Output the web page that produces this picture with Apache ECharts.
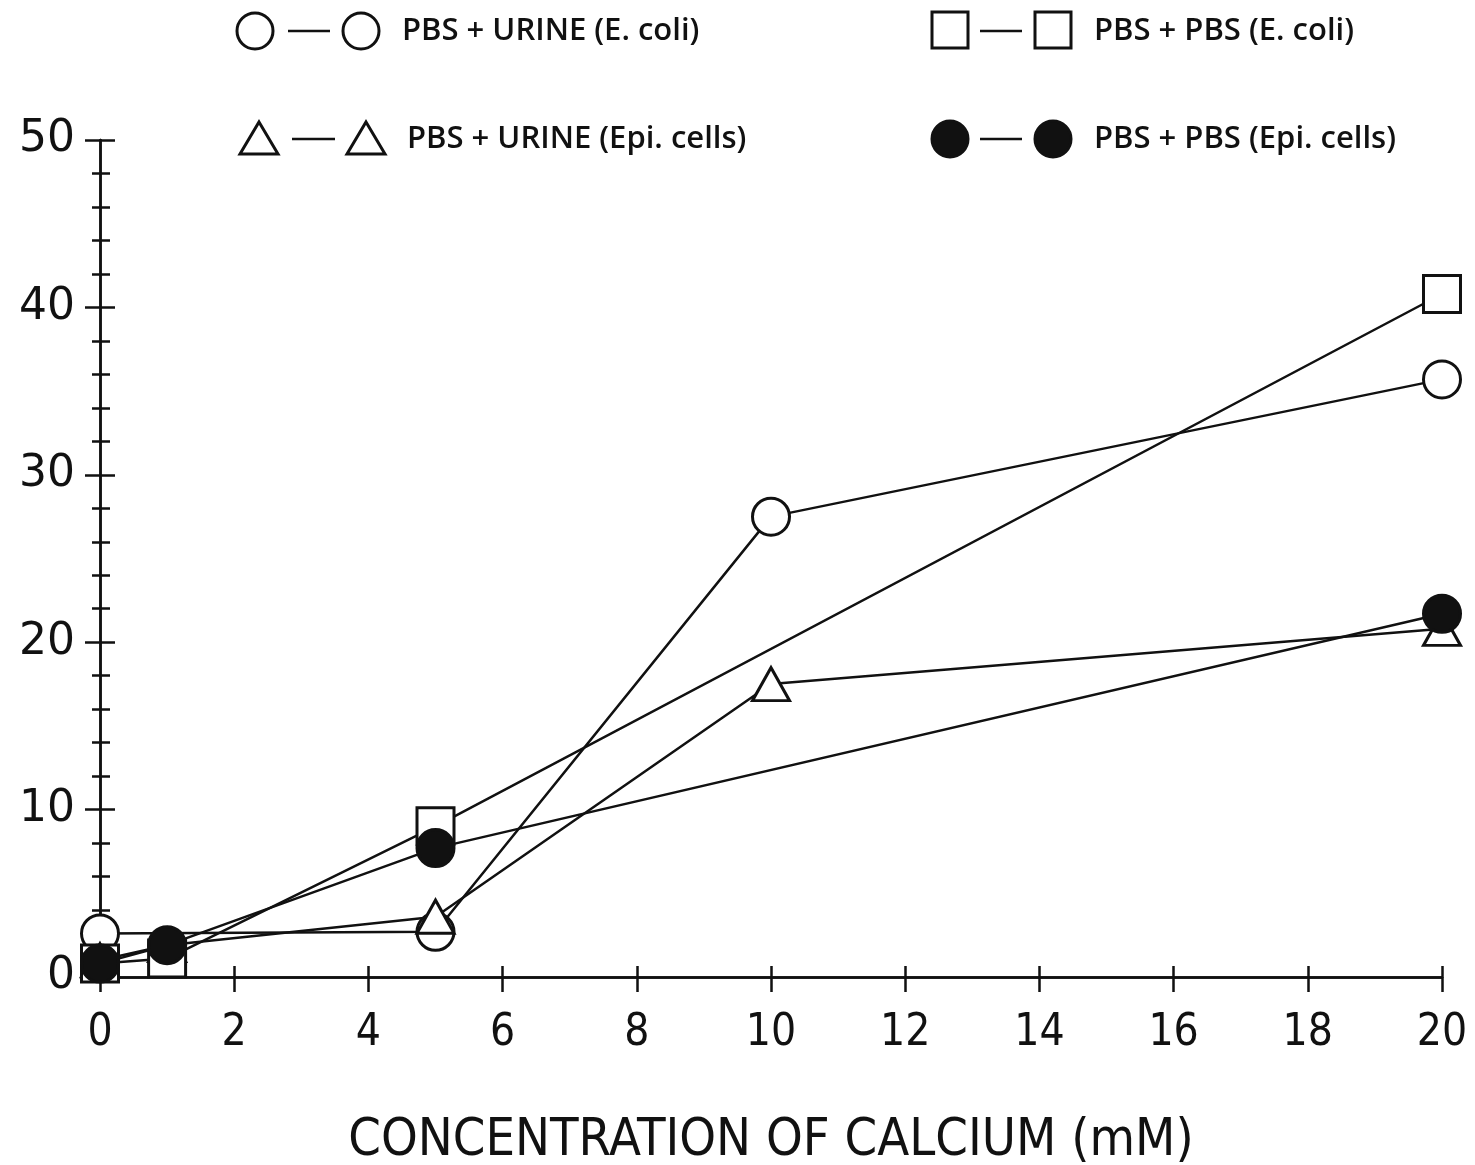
<!DOCTYPE html>
<html>
<head>
<meta charset="utf-8">
<script src="https://cdn.jsdelivr.net/npm/echarts@6/dist/echarts.min.js"></script>
<style>
  html, body { margin: 0; padding: 0; background: #fff; }
  #chart { width: 1475px; height: 1165px; }
</style>
</head>
<body>
<div id="chart"></div>
<script>
// calcium concentration (mM) and mean values
const urineEcoliX = [0, 5, 10, 20];
const urineEcoliY = [2.6, 2.7, 27.5, 35.7];

const urineEpiX = [0, 1, 5, 10, 20];
const urineEpiY = [1.0, 1.9, 3.6, 17.5, 20.8];

const pbsEcoliX = [0, 1, 5, 20];
const pbsEcoliY = [0.8, 1.1, 9.0, 40.8];

const pbsEpiX = [0, 1, 5, 20];
const pbsEpiY = [0.8, 1.9, 7.7, 21.7];

const xTicks = [0, 2, 4, 6, 8, 10, 12, 14, 16, 18, 20];
const yTicks = [0, 10, 20, 30, 40, 50];

const legendNames = [
  "PBS + URINE (E. coli)",
  "PBS + PBS (E. coli)",
  "PBS + URINE (Epi. cells)",
  "PBS + PBS (Epi. cells)",
];

const pairs = (xs, ys) => xs.map((x, i) => [x, ys[i]]);

const chart = echarts.init(document.getElementById("chart"));

const black = "#111";
const symSize = 37;

function lineSeries(xs, ys) {
  return {
    type: "line",
    data: pairs(xs, ys),
    symbol: "none",
    lineStyle: { color: black, width: 2.5 },
    z: 2,
    silent: true,
  };
}

function markSeries(xs, ys, symbol, fill, z, size) {
  return {
    type: "scatter",
    data: pairs(xs, ys),
    symbol: symbol,
    symbolSize: size || symSize,
    itemStyle: { color: fill, borderColor: black, borderWidth: 3, opacity: 1 },
    z: z,
    silent: true,
  };
}

// legend drawn by hand: symbol — symbol  text
function legendText(x, y, text) {
  return {
    type: "text",
    style: {
      x: x, y: y, text: text, verticalAlign: "middle",
      fontSize: 31, fontWeight: 600, fontFamily: "Open Sans", fill: black,
    },
  };
}
function legendDash(x1, x2, y) {
  return { type: "line", shape: { x1: x1, y1: y, x2: x2, y2: y }, style: { stroke: black, lineWidth: 2.5 } };
}
function legendCircle(cx, cy, filled) {
  return {
    type: "circle",
    shape: { cx: cx, cy: cy, r: 18 },
    style: { fill: filled ? black : "#fff", stroke: black, lineWidth: 3 },
  };
}
function legendSquare(x, y) {
  return { type: "rect", shape: { x: x, y: y, width: 36, height: 36 }, style: { fill: "#fff", stroke: black, lineWidth: 3 } };
}
function legendTri(cx, cy) {
  return {
    type: "polygon",
    shape: { points: [[cx, cy - 17], [cx + 19, cy + 15], [cx - 19, cy + 15]] },
    style: { fill: "#fff", stroke: black, lineWidth: 3 },
  };
}

const graphics = [
  legendCircle(255, 31, false), legendDash(288, 330, 31), legendCircle(361, 31, false),
  legendText(402, 31, legendNames[0]),
  legendSquare(932, 12), legendDash(980, 1022, 31), legendSquare(1035, 12),
  legendText(1094, 31, legendNames[1]),
  legendTri(259, 139), legendDash(292, 335, 139), legendTri(366, 139),
  legendText(407, 139, legendNames[2]),
  legendCircle(950, 139, true), legendDash(980, 1022, 139), legendCircle(1053, 139, true),
  legendText(1094, 139, legendNames[3]),
];

const xBase = {
  type: "value",
  min: xTicks[0],
  max: xTicks[xTicks.length - 1],
  interval: 2,
  position: "bottom",
  splitLine: { show: false },
  axisLine: { show: true, lineStyle: { color: black, width: 2.5 } },
};
const yBase = {
  type: "value",
  min: yTicks[0],
  max: yTicks[yTicks.length - 1],
  interval: 10,
  position: "left",
  splitLine: { show: false },
  axisLine: { show: true, lineStyle: { color: black, width: 2.5 } },
};

const narrow = "Liberation Sans Narrow, DejaVu Sans Condensed";

const option = {
  backgroundColor: "#fff",
  animation: false,
  graphic: graphics,
  grid: { left: 100, right: 33, top: 140, bottom: 188, containLabel: false, outerBoundsMode: "none" },
  xAxis: [
    Object.assign({}, xBase, {
      name: "CONCENTRATION OF CALCIUM (mM)",
      nameLocation: "middle",
      nameGap: 138,
      nameTextStyle: { fontSize: 52, fontFamily: narrow, color: black, verticalAlign: "top" },
      axisTick: { show: true, inside: false, length: 15, lineStyle: { color: black, width: 2.5 } },
      axisLabel: { margin: 35, fontSize: 44, fontFamily: narrow, color: black },
    }),
    Object.assign({}, xBase, {
      axisTick: { show: true, inside: true, length: 11, lineStyle: { color: black, width: 2.5 } },
      axisLabel: { show: false },
    }),
  ],
  yAxis: [
    Object.assign({}, yBase, {
      axisTick: { show: true, inside: false, length: 15, lineStyle: { color: black, width: 2.5 } },
      minorTick: { show: true, splitNumber: 5, length: 8, lineStyle: { color: black, width: 2.5 } },
      axisLabel: { margin: 25, fontSize: 44, fontFamily: "DejaVu Sans", color: black },
    }),
    Object.assign({}, yBase, {
      axisTick: { show: true, inside: true, length: 15, lineStyle: { color: black, width: 2.5 } },
      minorTick: { show: true, splitNumber: 5, length: 10, lineStyle: { color: black, width: 2.5 } },
      axisLabel: { show: false },
    }),
  ],
  series: [
    lineSeries(urineEcoliX, urineEcoliY),
    lineSeries(urineEpiX, urineEpiY),
    lineSeries(pbsEcoliX, pbsEcoliY),
    lineSeries(pbsEpiX, pbsEpiY),
    markSeries(urineEcoliX, urineEcoliY, "circle", "#fff", 3),
    markSeries(urineEpiX, urineEpiY, "triangle", "#fff", 4, [37, 33]),
    markSeries(pbsEcoliX, pbsEcoliY, "rect", "#fff", 5),
    markSeries(pbsEpiX, pbsEpiY, "circle", black, 6),
  ],
};

chart.setOption(option);
</script>
</body>
</html>
